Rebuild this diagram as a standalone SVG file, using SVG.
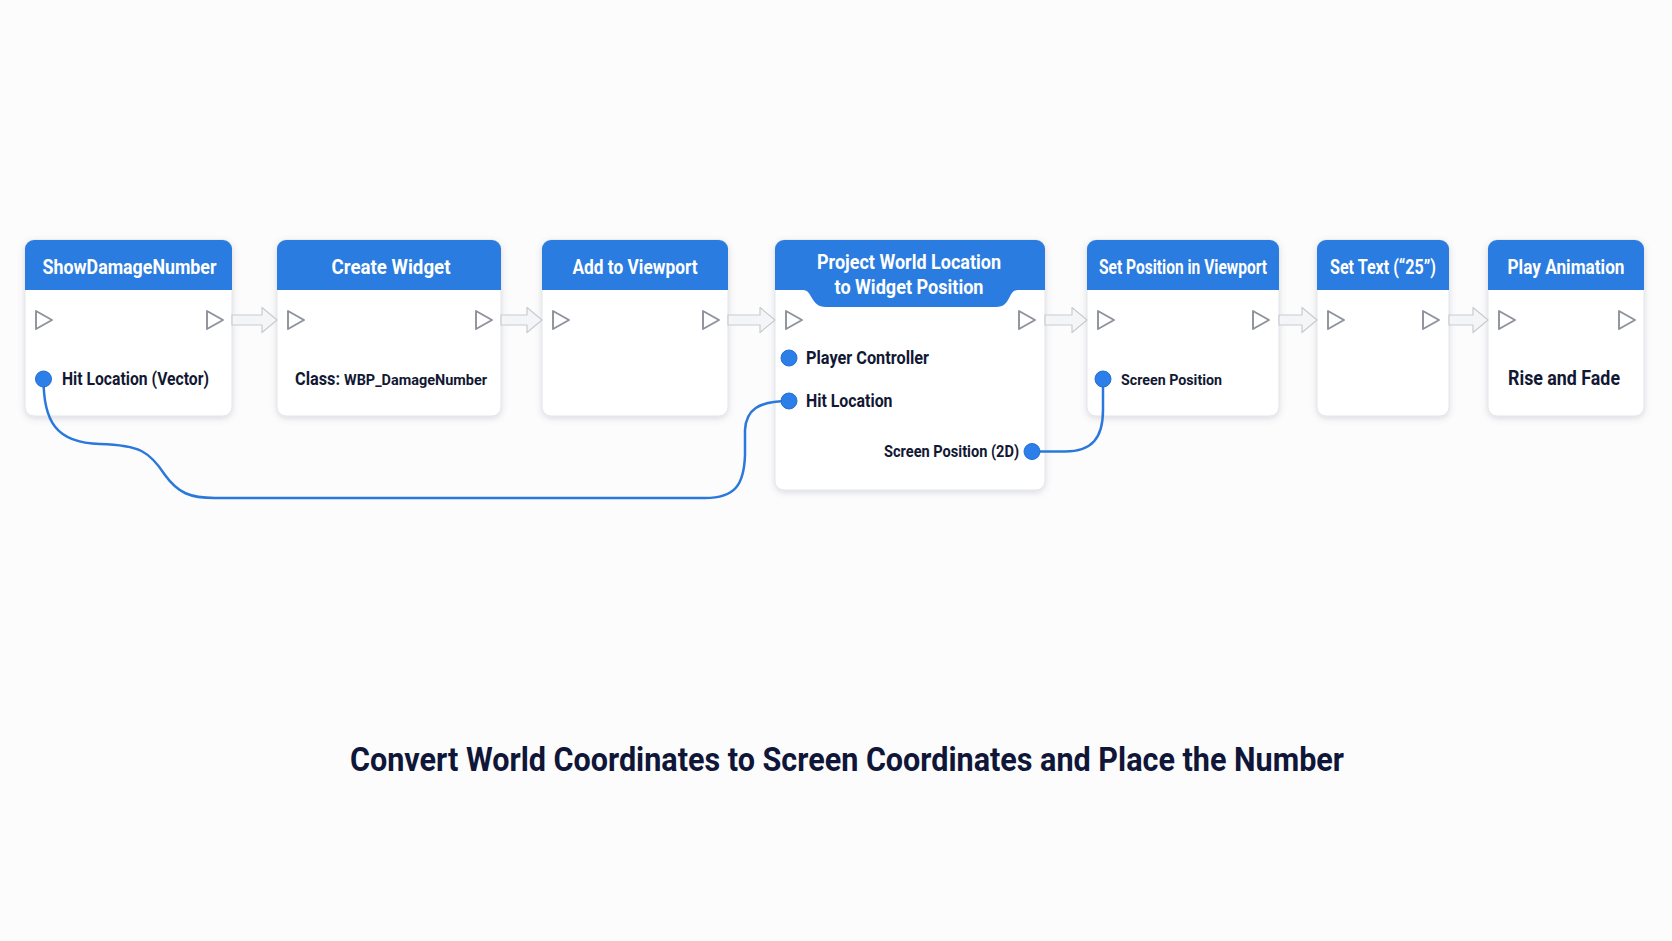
<svg xmlns="http://www.w3.org/2000/svg" width="1672" height="941" viewBox="0 0 1672 941">
<defs>
<filter id="sh" x="-10%" y="-10%" width="120%" height="130%">
<feDropShadow dx="0" dy="2" stdDeviation="3" flood-color="#5a6270" flood-opacity="0.22"/>
</filter>
<style>
.body{fill:#ffffff;stroke:#e2e5ea;stroke-width:1}
.hdr{fill:#2b7be0}
.ht{font-family:Roboto,"Liberation Sans",sans-serif;font-weight:700;font-size:20px;fill:#ffffff;text-anchor:middle}
.bt{font-family:Roboto,"Liberation Sans",sans-serif;font-weight:700;font-size:17.5px;fill:#121833}
.exec{fill:#ffffff;stroke:#8d929b;stroke-width:1.9;stroke-linejoin:round}
.pin{fill:#2c7fe8;stroke:#2470d4;stroke-width:1}
.wire{fill:none;stroke:#2a78dc;stroke-width:2.5;stroke-linecap:round}
.flow{fill:#f4f5f7;stroke:#c7cbd1;stroke-width:1.2;stroke-linejoin:round}
.title{font-family:Roboto,"Liberation Sans",sans-serif;font-weight:700;font-size:33px;fill:#101638;text-anchor:middle}
</style>
</defs>
<rect width="1672" height="941" fill="#fcfcfd"/>

<g id="node-show-damage">
<g filter="url(#sh)">
<rect class="body" x="25" y="240" width="207" height="176" rx="9"/>
<path class="hdr" d="M25,249 a9,9 0 0 1 9,-9 h189 a9,9 0 0 1 9,9 v41 h-207 z"/>
</g>
<text class="ht" x="129.5" y="273.5" textLength="174" lengthAdjust="spacingAndGlyphs">ShowDamageNumber</text>
<path class="exec" d="M36,311 L52,320 L36,329 Z"/>
<path class="exec" d="M207,311 L223,320 L207,329 Z"/>
<text class="bt" x="62" y="385" textLength="147" lengthAdjust="spacingAndGlyphs">Hit Location (Vector)</text>
</g>

<g id="node-create-widget">
<g filter="url(#sh)">
<rect class="body" x="277" y="240" width="224" height="176" rx="9"/>
<path class="hdr" d="M277,249 a9,9 0 0 1 9,-9 h206 a9,9 0 0 1 9,9 v41 h-224 z"/>
</g>
<text class="ht" x="391" y="273.5" textLength="119" lengthAdjust="spacingAndGlyphs">Create Widget</text>
<path class="exec" d="M288,311 L304,320 L288,329 Z"/>
<path class="exec" d="M476,311 L492,320 L476,329 Z"/>
<text class="bt" x="295" y="385" textLength="45" lengthAdjust="spacingAndGlyphs">Class:</text>
<text class="bt" x="344" y="385" style="font-size:15.5px" textLength="143" lengthAdjust="spacingAndGlyphs">WBP_DamageNumber</text>
</g>

<g id="node-add-viewport">
<g filter="url(#sh)">
<rect class="body" x="542" y="240" width="186" height="176" rx="9"/>
<path class="hdr" d="M542,249 a9,9 0 0 1 9,-9 h168 a9,9 0 0 1 9,9 v41 h-186 z"/>
</g>
<text class="ht" x="635" y="273.5" textLength="125" lengthAdjust="spacingAndGlyphs">Add to Viewport</text>
<path class="exec" d="M553,311 L569,320 L553,329 Z"/>
<path class="exec" d="M703,311 L719,320 L703,329 Z"/>
</g>

<g id="node-project">
<g filter="url(#sh)">
<rect class="body" x="775" y="240" width="270" height="250" rx="9"/>
<path class="hdr" d="M775,249 a9,9 0 0 1 9,-9 h252 a9,9 0 0 1 9,9 v41 h-27 C1007,290 1012,307 996,307 L826,307 C810,307 813,290 803,290 L775,290 z"/>
</g>
<text class="ht" x="909" y="269" textLength="184" lengthAdjust="spacingAndGlyphs">Project World Location</text>
<text class="ht" x="909" y="293.5" textLength="149" lengthAdjust="spacingAndGlyphs">to Widget Position</text>
<path class="exec" d="M786,311 L802,320 L786,329 Z"/>
<path class="exec" d="M1019,311 L1035,320 L1019,329 Z"/>
<text class="bt" x="806" y="364" textLength="123" lengthAdjust="spacingAndGlyphs">Player Controller</text>
<text class="bt" x="806" y="407" textLength="86.5" lengthAdjust="spacingAndGlyphs">Hit Location</text>
<text class="bt" x="1019" y="457" style="font-size:16px;text-anchor:end" textLength="135" lengthAdjust="spacingAndGlyphs">Screen Position (2D)</text>
</g>

<g id="node-set-position">
<g filter="url(#sh)">
<rect class="body" x="1087" y="240" width="192" height="176" rx="9"/>
<path class="hdr" d="M1087,249 a9,9 0 0 1 9,-9 h174 a9,9 0 0 1 9,9 v41 h-192 z"/>
</g>
<text class="ht" x="1183" y="273.5" textLength="168" lengthAdjust="spacingAndGlyphs">Set Position in Viewport</text>
<path class="exec" d="M1098,311 L1114,320 L1098,329 Z"/>
<path class="exec" d="M1253,311 L1269,320 L1253,329 Z"/>
<text class="bt" x="1121" y="385" style="font-size:15.5px" textLength="101" lengthAdjust="spacingAndGlyphs">Screen Position</text>
</g>

<g id="node-set-text">
<g filter="url(#sh)">
<rect class="body" x="1317" y="240" width="132" height="176" rx="9"/>
<path class="hdr" d="M1317,249 a9,9 0 0 1 9,-9 h114 a9,9 0 0 1 9,9 v41 h-132 z"/>
</g>
<text class="ht" x="1383" y="273.5" textLength="106" lengthAdjust="spacingAndGlyphs">Set Text (“25”)</text>
<path class="exec" d="M1328,311 L1344,320 L1328,329 Z"/>
<path class="exec" d="M1423,311 L1439,320 L1423,329 Z"/>
</g>

<g id="node-play-animation">
<g filter="url(#sh)">
<rect class="body" x="1488" y="240" width="156" height="176" rx="9"/>
<path class="hdr" d="M1488,249 a9,9 0 0 1 9,-9 h138 a9,9 0 0 1 9,9 v41 h-156 z"/>
</g>
<text class="ht" x="1566" y="273.5" textLength="117" lengthAdjust="spacingAndGlyphs">Play Animation</text>
<path class="exec" d="M1499,311 L1515,320 L1499,329 Z"/>
<path class="exec" d="M1619,311 L1635,320 L1619,329 Z"/>
<text class="bt" x="1564" y="385" style="font-size:20px;text-anchor:middle" textLength="112" lengthAdjust="spacingAndGlyphs">Rise and Fade</text>
</g>

<g id="connectors">
<path class="flow" d="M232,315 H262 V307.5 L277,320 L262,332.5 V325 H232 Z"/>
<path class="flow" d="M501,315 H527 V307.5 L542,320 L527,332.5 V325 H501 Z"/>
<path class="flow" d="M728,315 H760 V307.5 L775,320 L760,332.5 V325 H728 Z"/>
<path class="flow" d="M1045,315 H1072 V307.5 L1087,320 L1072,332.5 V325 H1045 Z"/>
<path class="flow" d="M1279,315 H1302 V307.5 L1317,320 L1302,332.5 V325 H1279 Z"/>
<path class="flow" d="M1449,315 H1473 V307.5 L1488,320 L1473,332.5 V325 H1449 Z"/>
<path class="wire" d="M43.5,379 C43.5,420 55,443 100,444 C140,445 150,452 165,475 C178,493 190,498 215,498 L705,498 C735,498 744,485 745,455 L745,430 C746,410 758,401 789,401"/>
<path class="wire" d="M1032,451.5 L1065,451.5 C1092,451.5 1103,438 1103,410 L1103,379"/>
<circle class="pin" cx="43.5" cy="379" r="8"/>
<circle class="pin" cx="789" cy="358" r="8"/>
<circle class="pin" cx="789" cy="401" r="8"/>
<circle class="pin" cx="1032" cy="451.5" r="8"/>
<circle class="pin" cx="1103" cy="379" r="8"/>
</g>

<text class="title" x="847" y="771" textLength="994" lengthAdjust="spacingAndGlyphs">Convert World Coordinates to Screen Coordinates and Place the Number</text>
</svg>
